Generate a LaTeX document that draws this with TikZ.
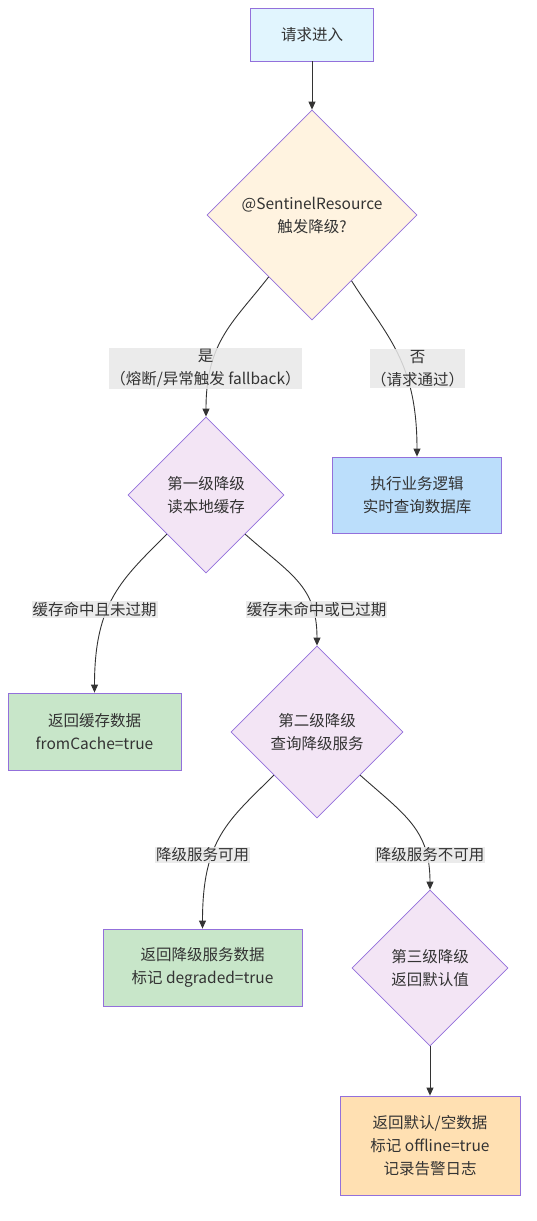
\documentclass[tikz,border=0pt]{standalone}
\usepackage{fontspec}
\setmainfont{Noto Sans CJK SC}
\usetikzlibrary{arrows.meta, shapes.geometric}
\definecolor{nodeborder}{HTML}{9370DB}
\definecolor{textgray}{HTML}{333333}
\definecolor{linegray}{HTML}{333333}
\definecolor{labelgray}{HTML}{E8E8E8}
\definecolor{startblue}{HTML}{E1F5FE}
\definecolor{askorange}{HTML}{FFF3E0}
\definecolor{levelpurple}{HTML}{F3E5F5}
\definecolor{passblue}{HTML}{BBDEFB}
\definecolor{hitgreen}{HTML}{C8E6C9}
\definecolor{lastorange}{HTML}{FFE0B2}
\tikzset{
  box/.style={draw=nodeborder, line width=0.8pt, rectangle, align=center, text=textgray,
    font=\fontsize{15.5}{23}\selectfont},
  decision/.style={draw=nodeborder, line width=0.8pt, diamond, aspect=1, inner sep=0pt,
    align=center, text=textgray, font=\fontsize{15.5}{23}\selectfont},
  edgelabel/.style={fill=labelgray, fill opacity=0.85, text opacity=1, inner sep=1pt,
    align=center, text=textgray, font=\fontsize{15.5}{23}\selectfont},
  arr/.style={line width=0.9pt, draw=linegray, -{Triangle[length=8pt,width=7pt]}}
}
\begin{document}
\begin{tikzpicture}[x=1pt,y=-1pt]
\useasboundingbox (0,0) rectangle (536,1221);
%entry and first check
\node[box, fill=startblue, minimum width=123pt, minimum height=53pt] (start) at (312,34.5) {请求进入};
\node[decision, fill=askorange, minimum size=210pt] (sent) at (312,215) {@SentinelResource\\触发降级?};
\node[box, fill=passblue, minimum width=169pt, minimum height=76pt] (exec) at (417,495) {执行业务逻辑\\实时查询数据库};
%degrade levels
\node[decision, fill=levelpurple, minimum size=156pt] (lvone) at (206,495) {第一级降级\\读本地缓存};
\node[box, fill=hitgreen, minimum width=173pt, minimum height=77pt] (cache) at (94.5,731.5) {返回缓存数据\\fromCache=true};
\node[decision, fill=levelpurple, minimum size=172pt] (lvtwo) at (317,732) {第二级降级\\查询降级服务};
\node[box, fill=hitgreen, minimum width=199pt, minimum height=77pt] (degr) at (202.5,967.5) {返回降级服务数据\\标记 degraded=true};
\node[decision, fill=levelpurple, minimum size=156pt] (lvthree) at (430,968) {第三级降级\\返回默认值};
\node[box, fill=lastorange, minimum width=180pt, minimum height=99pt] (offline) at (430,1145.5) {返回默认/空数据\\标记 offline=true\\记录告警日志};
%arrows
\draw[arr] (start) -- (sent);
\draw[arr] (sent.235) .. controls +(-35,45) and +(0,-75) .. (lvone.north);
\draw[arr] (sent.301) .. controls +(35,55) and +(0,-95) .. (exec.north);
\draw[arr] (lvone.south west) .. controls +(-45,45) and +(0,-90) .. (cache.north);
\draw[arr] (lvone.south east) .. controls +(45,40) and +(0,-60) .. (lvtwo.north);
\draw[arr] (lvtwo.south west) .. controls +(-45,45) and +(0,-90) .. (degr.north);
\draw[arr] (lvtwo.south east) .. controls +(45,40) and +(0,-60) .. (lvthree.north);
\draw[arr] (lvthree) -- (offline);
%edge labels
\node[edgelabel] (lyes) at (205.5,368.5) {是\\（熔断/异常触发 fallback）};
\node[edgelabel] (lno) at (417.5,368.5) {否\\（请求通过）};
\node[edgelabel] (lhit) at (94.5,609.5) {缓存命中且未过期};
\node[edgelabel] (lmiss) at (316.5,609.5) {缓存未命中或已过期};
\node[edgelabel] (lok) at (202.5,855) {降级服务可用};
\node[edgelabel] (lfail) at (430,855) {降级服务不可用};
\end{tikzpicture}
\end{document}
